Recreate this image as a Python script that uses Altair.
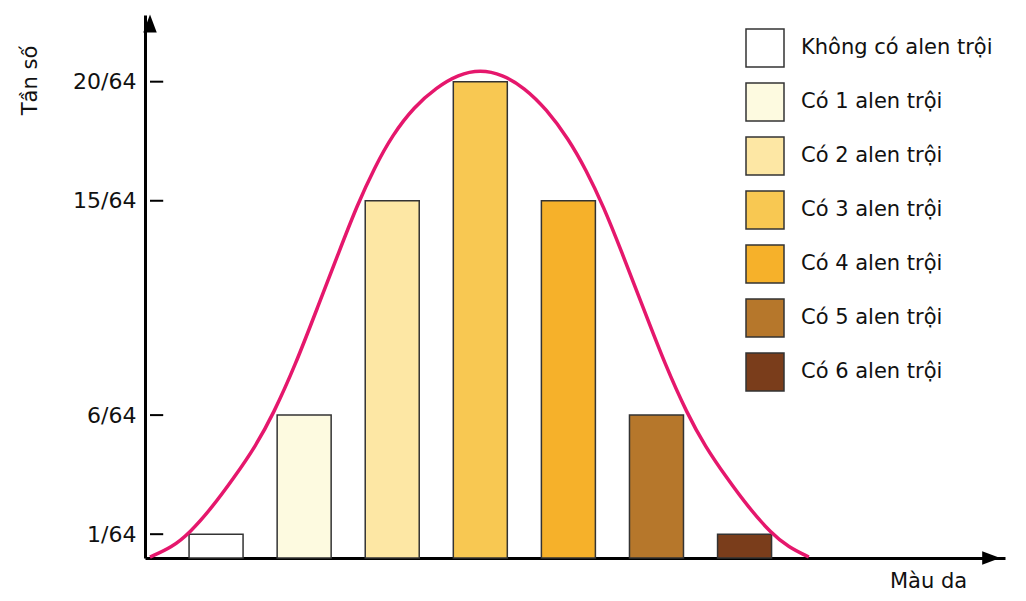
import altair as alt
import pandas as pd

# ---- data ----
categories = ["Không có alen trội", "Có 1 alen trội", "Có 2 alen trội", "Có 3 alen trội",
              "Có 4 alen trội", "Có 5 alen trội", "Có 6 alen trội"]
positions = [0, 1, 2, 3, 4, 5, 6]
freq64 = [1, 6, 15, 20, 15, 6, 1]
bar_colors = ["#ffffff", "#fdfae0", "#fde7a4", "#f8c852", "#f6b12a", "#b6772b", "#7a3d1b"]

tick_values = [1, 6, 15, 20]

curve_x = [-0.75, -0.50, -0.30, -0.05, 0.20, 0.45, 0.65, 0.90, 1.15, 1.40, 1.60, 1.80,
           2.00, 2.25, 2.50, 2.75, 3.00, 3.25, 3.50, 3.75, 4.00, 4.20, 4.40, 4.60,
           4.85, 5.10, 5.35, 5.55, 5.80, 6.05, 6.30, 6.50, 6.73]
curve_y = [0.04, 0.45, 1.05, 2.10, 3.35, 4.70, 6.05, 8.10, 10.50, 12.90, 14.80, 16.40,
           17.75, 18.95, 19.75, 20.30, 20.50, 20.30, 19.75, 18.85, 17.60, 16.30, 14.75, 12.90,
           10.50, 8.10, 6.05, 4.70, 3.35, 2.10, 1.05, 0.45, 0.04]

X_MIN, X_MAX = -0.75, 8.9
Y_MIN, Y_MAX = 0, 22.8

bars = pd.DataFrame({"cat": categories, "pos": positions, "v": freq64})
curve = pd.DataFrame({"x": curve_x, "y": curve_y})
ticks = pd.DataFrame({"y": tick_values})
arrow_up = pd.DataFrame({"x": [X_MIN], "y": [22.44]})
arrow_right = pd.DataFrame({"x": [8.80], "y": [0]})

FONT = "DejaVu Sans"

xscale = alt.Scale(domain=[X_MIN, X_MAX], nice=False, zero=False)
yscale = alt.Scale(domain=[Y_MIN, Y_MAX], nice=False, zero=False)

x_axis = alt.Axis(
    title="Màu da", labels=False, ticks=False, grid=False,
    domainColor="#000", domainWidth=3,
    titleFont=FONT, titleFontSize=21, titleFontWeight="normal", titleColor="#111",
    titleX=783, titleY=29, titleAlign="center", titleBaseline="alphabetic", titleAnchor="start",
)
y_axis = alt.Axis(
    title="Tần số", values=tick_values, labelExpr="datum.value + '/64'",
    ticks=False, grid=False, domainColor="#000", domainWidth=3,
    labelFont=FONT, labelFontSize=22, labelColor="#111", labelPadding=9,
    titleFont=FONT, titleFontSize=21, titleFontWeight="normal", titleColor="#111",
    titleX=-115, titleY=65, titleAlign="center", titleBaseline="middle", titleAngle=-90,
    titleAnchor="start",
)

bar_layer = alt.Chart(bars).mark_bar(size=54, stroke="#333", strokeWidth=1.5).encode(
    x=alt.X("pos:Q", scale=xscale, axis=x_axis),
    y=alt.Y("v:Q", scale=yscale, axis=y_axis),
    fill=alt.Fill(
        "cat:N",
        scale=alt.Scale(domain=categories, range=bar_colors),
        sort=categories,
        legend=alt.Legend(
            title=None, orient="none", legendX=600, legendY=13, padding=0,
            symbolType="square", symbolSize=1444, symbolStrokeColor="#333",
            symbolStrokeWidth=1.5, symbolOpacity=1,
            labelFont=FONT, labelFontSize=21, labelColor="#111", labelOffset=16,
            rowPadding=10, labelLimit=400,
        ),
    ),
)

tick_layer = alt.Chart(ticks).mark_rule(color="#000", strokeWidth=2).encode(
    x=alt.datum(X_MIN, scale=xscale),
    x2=alt.datum(X_MIN + 0.15),
    y=alt.Y("y:Q", scale=yscale),
)

curve_layer = alt.Chart(curve).mark_line(
    color="#e5176c", strokeWidth=3.5, interpolate="basis"
).encode(
    x=alt.X("x:Q", scale=xscale),
    y=alt.Y("y:Q", scale=yscale),
)

up_layer = alt.Chart(arrow_up).mark_point(
    shape="M0,-1L0.75,1L-0.75,1Z", size=324, filled=True, color="#000", opacity=1
).encode(x=alt.X("x:Q", scale=xscale), y=alt.Y("y:Q", scale=yscale))

right_layer = alt.Chart(arrow_right).mark_point(
    shape="M1,0L-1,0.75L-1,-0.75Z", size=324, filled=True, color="#000", opacity=1
).encode(x=alt.X("x:Q", scale=xscale), y=alt.Y("y:Q", scale=yscale))

chart = alt.layer(bar_layer, tick_layer, curve_layer, up_layer, right_layer).properties(
    width=860, height=543,
    padding={"left": 137, "top": 7, "right": 13, "bottom": 35},
    autosize=alt.AutoSizeParams(type="none"),
    background="#ffffff",
).configure_view(stroke=None)

chart.save("out.html", embed_options={"renderer": "svg", "actions": False})
